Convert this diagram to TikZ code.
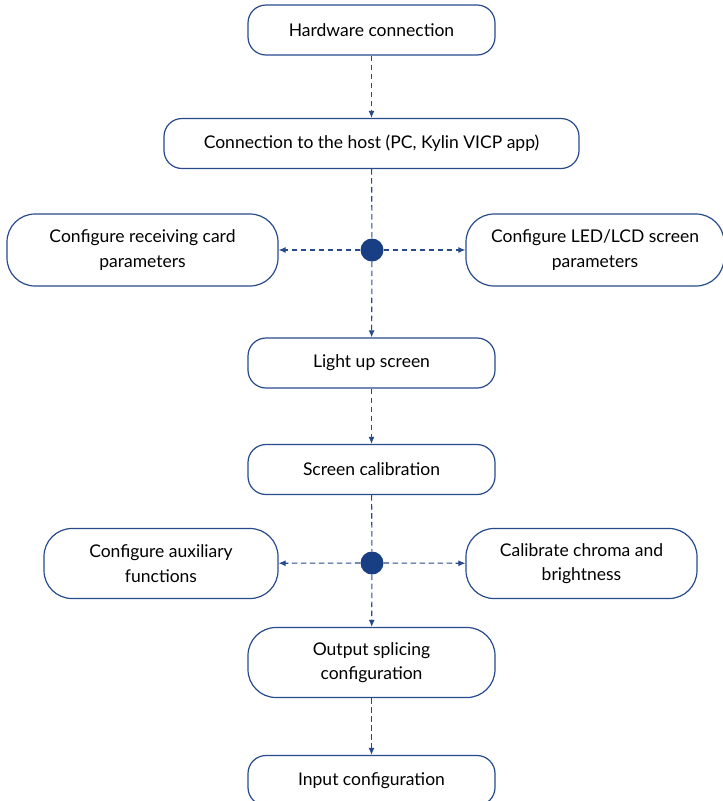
\documentclass[tikz,border=0pt]{standalone}
\usepackage{fontspec}
\setmainfont{Lato}
\usepackage{xcolor}
\usetikzlibrary{arrows.meta}

\definecolor{flowblue}{RGB}{38,74,140}
\definecolor{dotblue}{RGB}{24,62,132}

\tikzset{
	step box/.style={draw=flowblue, line width=1.2pt, rounded corners=18pt, fill=white,
		align=center, inner sep=0pt, minimum height=50pt,
		font=\fontsize{17.5}{24.5}\selectfont},
	twoline/.style={rounded corners=28pt, minimum height=70pt},
	flow/.style={flowblue, line width=1.1pt, dash pattern=on 5.5pt off 3.5pt},
	arr/.style={flow, -{Latex[length=7pt,width=6pt]}},
	junction/.style={circle, fill=dotblue, inner sep=0pt, minimum size=23pt}
}

\begin{document}
\begin{tikzpicture}[x=1pt,y=-1pt]
			\useasboundingbox (0,0) rectangle (723,801);
			
			\node[step box, minimum width=247pt] (hw) at (371.5,30) {Hardware connection};
			\node[step box, minimum width=415pt] (host) at (371.5,143.5) {Connection to the host (PC, Kylin VICP app)};
			
			\node[junction] (j1) at (372,250) {};
			\node[step box, twoline, minimum width=271pt, minimum height=72pt] (rcv) at (142.5,250) {Configure receiving card\\parameters};
			\node[step box, twoline, minimum width=258pt, minimum height=72pt] (scr) at (595,250) {Configure LED/LCD screen\\parameters};
			
			\node[step box, minimum width=247pt] (light) at (371.5,363) {Light up screen};
			\node[step box, minimum width=247pt] (calib) at (371.5,469.5) {Screen calibration};
			
			\node[junction] (j2) at (372,563) {};
			\node[step box, twoline, minimum width=234pt] (aux) at (161,563.5) {Configure auxiliary\\functions};
			\node[step box, twoline, minimum width=231pt] (chroma) at (581.5,563.5) {Calibrate chroma and\\brightness};
			
			\node[step box, twoline, minimum width=247pt] (splice) at (371.5,662.5) {Output splicing\\configuration};
			\node[step box, minimum width=247pt] (input) at (371.5,780.5) {Input configuration};
			
			\draw[arr] (hw) to (host);
			\draw[flow] (host) to (j1);
			\draw[arr] (j1) to (rcv);
			\draw[arr] (j1) to (scr);
			\draw[arr] (j1) to (light);
			\draw[arr] (light) to (calib);
			\draw[flow] (calib) to (j2);
			\draw[arr] (j2) to (aux);
			\draw[arr] (j2) to (chroma);
			\draw[arr] (j2) to (splice);
			\draw[arr] (splice) to (input);
		\end{tikzpicture}
\end{document}
